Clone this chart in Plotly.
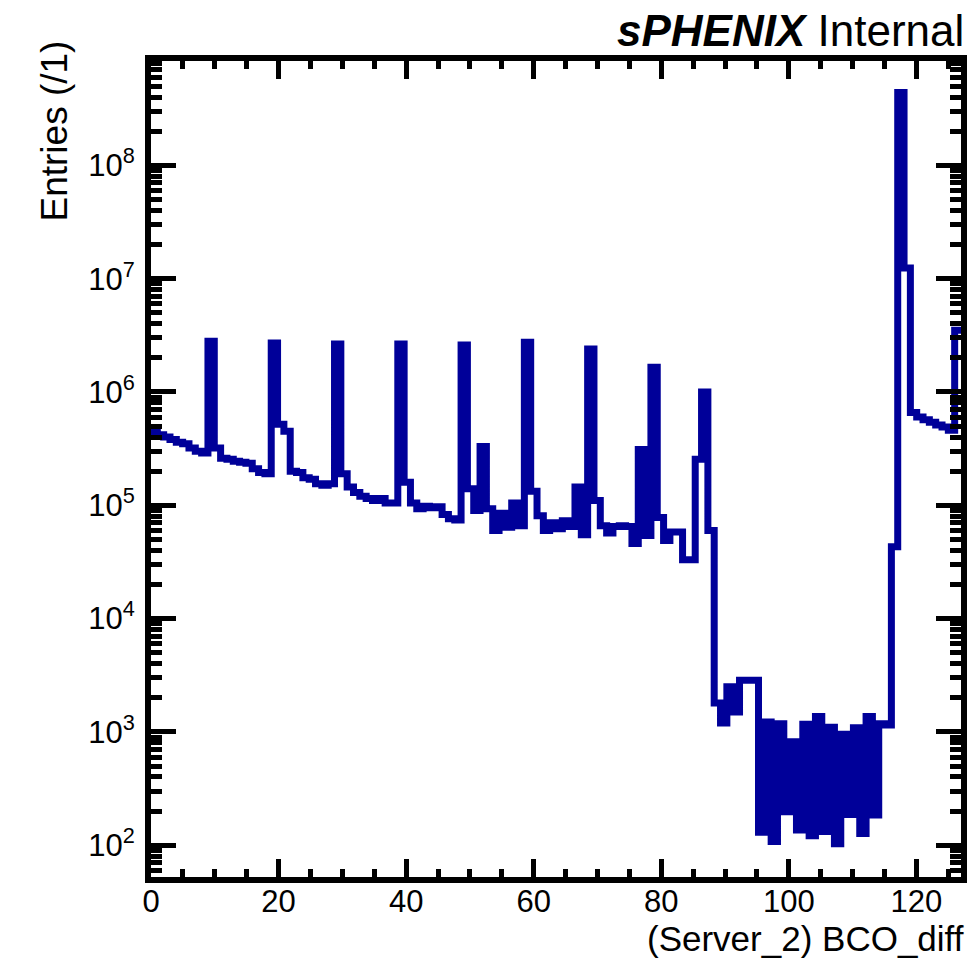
import numpy as np
import plotly.graph_objects as go

# Histogram definition: 128 bins spanning 0..127 (BCO_diff)
n_bins = 128
x_lo, x_hi = 0.0, 127.0

counts = [
    4.4e5, 4.2e5, 4.0e5, 3.8e5, 3.6e5, 3.5e5, 3.2e5, 3.0e5, 2.9e5, 2.8e6,      # 0-9
    3.2e5, 2.6e5, 2.55e5, 2.45e5, 2.4e5, 2.35e5, 2.1e5, 1.95e5, 1.9e5, 2.7e6,  # 10-19
    5.2e5, 4.5e5, 2.0e5, 1.95e5, 1.75e5, 1.7e5, 1.55e5, 1.5e5, 1.55e5, 2.65e6, # 20-29
    1.9e5, 1.45e5, 1.3e5, 1.2e5, 1.15e5, 1.1e5, 1.15e5, 1.05e5, 1.05e5, 2.65e6, # 30-39
    1.6e5, 1.05e5, 9.3e4, 9.8e4, 9.5e4, 9.7e4, 8.3e4, 7.6e4, 7.4e4, 2.6e6,     # 40-49
    1.4e5, 9.0e4, 3.3e5, 9.3e4, 6.0e4, 8.5e4, 6.4e4, 1.05e5, 6.6e4, 2.75e6,    # 50-59
    1.33e5, 8.1e4, 6.0e4, 7.0e4, 6.2e4, 7.3e4, 6.5e4, 1.45e5, 5.5e4, 2.4e6,    # 60-69
    1.1e5, 6.6e4, 5.7e4, 6.5e4, 6.6e4, 6.5e4, 4.6e4, 3.1e5, 5.4e4, 1.65e6,     # 70-79
    7.8e4, 4.9e4, 5.8e4, 5.8e4, 3.3e4, 3.3e4, 2.55e5, 1.0e6, 6.0e4, 1.8e3,     # 80-89
    1.2e3, 2.5e3, 1.5e3, 2.85e3, 2.85e3, 2.85e3, 130, 1220, 108, 1180,         # 90-99
    197, 817, 136, 1170, 121, 1370, 132, 1100, 103, 953,                       # 100-109
    187, 1090, 127, 1370, 185, 1180, 1150, 4.3e4, 4.4e8, 1.24e7,               # 110-119
    6.6e5, 6.0e5, 5.7e5, 5.4e5, 5.1e5, 4.9e5, 4.6e5, 3.5e6,                    # 120-127
]

x_ticks = [0, 20, 40, 60, 80, 100, 120]
y_tick_vals = [1e2, 1e3, 1e4, 1e5, 1e6, 1e7, 1e8]
y_tick_text = ["10<sup>%d</sup>" % p for p in range(2, 9)]

x_title = "(Server_2) BCO_diff"
y_title = "Entries (/1)"

edges = np.linspace(x_lo, x_hi, n_bins + 1)
ys = list(counts) + [counts[-1]]

font_family = "Liberation Sans, Arial, Helvetica, sans-serif"

fig = go.Figure()
fig.add_trace(go.Scatter(
    x=edges, y=ys, mode="lines",
    line=dict(shape="hv", color="#000099", width=7),
    showlegend=False, hoverinfo="skip",
))

axis_common = dict(
    showline=True, linecolor="black", linewidth=6, mirror="allticks",
    ticks="inside", tickcolor="black", tickwidth=5,
    showgrid=False, zeroline=False, automargin=False,
    tickfont=dict(family=font_family, size=31, color="black"),
)

fig.update_xaxes(
    range=[x_lo, x_hi], tickvals=x_ticks, ticklen=18, ticklabelstandoff=-8,
    minor=dict(ticks="inside", dtick=5, ticklen=8, tickwidth=5, tickcolor="black", showgrid=False),
    **axis_common,
)
fig.update_yaxes(
    type="log", range=[np.log10(52.4), np.log10(8.34e8)],
    tickvals=y_tick_vals, ticktext=y_tick_text, ticklen=25, ticklabelstandoff=4,
    minor=dict(ticks="inside", dtick="D1", ticklen=11, tickwidth=5, tickcolor="black", showgrid=False),
    **axis_common,
)

# axis titles placed ROOT-style (right / top aligned)
fig.add_annotation(
    xref="paper", yref="paper", x=1.0, y=0.0, xanchor="right", yanchor="top",
    xshift=5, yshift=-40, showarrow=False, text=x_title,
    font=dict(family=font_family, size=35, color="black"),
)
fig.add_annotation(
    xref="paper", yref="paper", x=0.0, y=1.0, xanchor="center", yanchor="top",
    xshift=-97, yshift=22, showarrow=False, text=y_title, textangle=-90,
    font=dict(family=font_family, size=37, color="black"),
)

fig.add_annotation(
    xref="paper", yref="paper", x=1.0, y=1.0, xanchor="right", yanchor="bottom",
    xshift=5, yshift=4, showarrow=False,
    text="<b><i>sPHENIX</i></b> Internal",
    font=dict(family=font_family, size=44, color="black"),
)

fig.update_layout(
    width=969, height=960,
    margin=dict(l=151, r=8, t=61, b=83),
    paper_bgcolor="white", plot_bgcolor="white",
)

fig.write_html(
    "out.html",
    config={"displayModeBar": False, "staticPlot": True},
    post_script="document.body.style.margin='0px';",
)
